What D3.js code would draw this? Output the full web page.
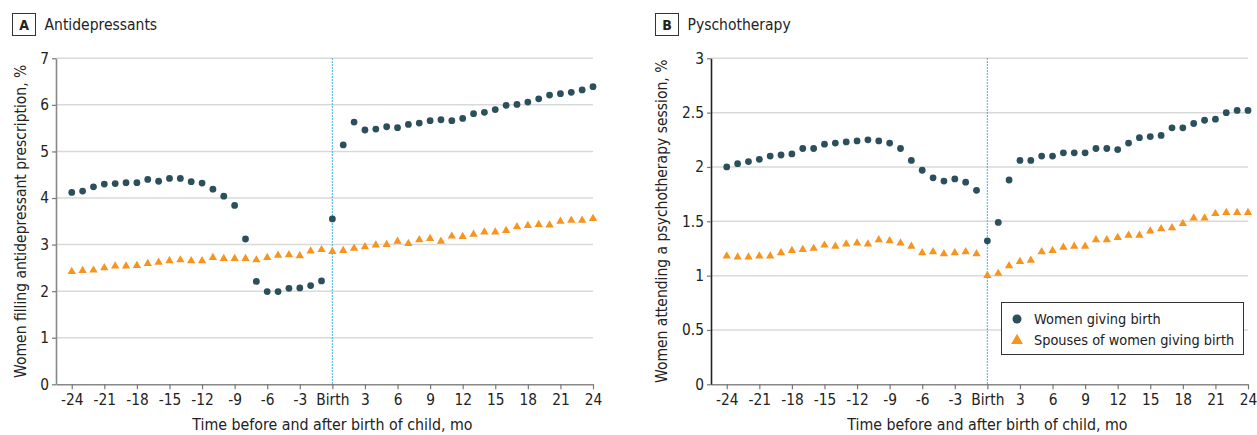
<!DOCTYPE html>
<html><head><meta charset="utf-8">
<script src="https://cdn.jsdelivr.net/npm/d3@7"></script>
<style>
body{margin:0;background:#fff;}
text{font-family:"DejaVu Sans Condensed","DejaVu Sans",sans-serif;fill:#222;}
</style></head>
<body><svg id="chart" width="1257" height="435"></svg>
<script>
const months = d3.range(-24, 25);
const xTicks = [-24,-21,-18,-15,-12,-9,-6,-3,0,3,6,9,12,15,18,21,24];
const tickFmt = d => d === 0 ? "Birth" : String(d);

const antiWomen = [4.12,4.15,4.24,4.30,4.31,4.33,4.33,4.40,4.36,4.42,4.42,4.35,4.32,4.19,4.04,3.84,3.12,2.21,1.99,1.99,2.06,2.07,2.12,2.22,
  3.55,5.14,5.63,5.46,5.48,5.53,5.51,5.58,5.61,5.66,5.68,5.66,5.71,5.81,5.84,5.90,5.99,6.01,6.06,6.13,6.21,6.24,6.27,6.32,6.39];
const antiSpouses = [2.42,2.44,2.45,2.50,2.54,2.54,2.55,2.59,2.62,2.65,2.67,2.65,2.65,2.72,2.70,2.70,2.70,2.67,2.72,2.77,2.78,2.76,2.86,2.89,
  2.85,2.87,2.92,2.95,2.99,3.00,3.07,3.02,3.10,3.13,3.07,3.18,3.17,3.22,3.27,3.27,3.30,3.38,3.41,3.43,3.42,3.50,3.52,3.52,3.56];
const psyWomen = [2.00,2.03,2.05,2.07,2.10,2.11,2.12,2.17,2.17,2.21,2.22,2.23,2.24,2.25,2.24,2.22,2.17,2.06,1.97,1.90,1.87,1.89,1.86,1.785,
  1.32,1.49,1.88,2.06,2.06,2.10,2.10,2.13,2.13,2.13,2.17,2.17,2.16,2.22,2.27,2.28,2.29,2.36,2.36,2.40,2.43,2.44,2.50,2.52,2.52];
const psySpouses = [1.18,1.17,1.17,1.18,1.18,1.21,1.23,1.24,1.25,1.28,1.27,1.29,1.30,1.29,1.33,1.32,1.30,1.27,1.21,1.22,1.20,1.21,1.22,1.20,
  1.00,1.02,1.09,1.13,1.14,1.22,1.23,1.26,1.27,1.27,1.33,1.33,1.35,1.37,1.37,1.41,1.43,1.44,1.48,1.53,1.53,1.57,1.58,1.58,1.58];
const antiYTicks = [0,1,2,3,4,5,6,7];
const psyYTicks = [0,0.5,1,1.5,2,2.5,3];
const legendLabels = ["Women giving birth","Spouses of women giving birth"];

const womenColor = "#2c4f5c", spouseColor = "#f7941d";
const svg = d3.select("#chart");

function panel(o){
  const g = svg.append("g");
  const x = d3.scaleLinear().domain([-25.45, 24]).range([o.x0, o.x1]);
  const y = d3.scaleLinear().domain([0, o.ymax]).range([384.3, 58.3]);
  g.selectAll("line.grid").data(o.yTicks.filter(d=>d>0)).join("line")
    .attr("x1", o.x0).attr("x2", x(24)).attr("y1", d=>y(d)).attr("y2", d=>y(d))
    .attr("stroke", "#d9d9d9").attr("stroke-width", 1.5);
  g.append("line").attr("x1", x(0)).attr("x2", x(0)).attr("y1", y(o.ymax)).attr("y2", y(0))
    .attr("stroke", "#2aaae2").attr("stroke-width", 1.2).attr("stroke-dasharray", "1.5,1.5");
  const xa = g.append("g").attr("transform", `translate(0,${y(0)})`)
    .call(d3.axisBottom(x).tickValues(xTicks).tickFormat(tickFmt).tickSize(5).tickPadding(5).tickSizeOuter(0));
  xa.select(".domain").attr("stroke", "#888").attr("stroke-width", 1.6);
  xa.selectAll(".tick line").attr("stroke", "#777").attr("stroke-width", 1.2);
  xa.selectAll("text").style("font-size", "15.3px").attr("fill", "#222");
  const ya = g.append("g").attr("transform", `translate(${o.x0},0)`)
    .call(d3.axisLeft(y).tickValues(o.yTicks).tickFormat(d=>String(d)).tickSize(4).tickPadding(3).tickSizeOuter(0));
  ya.select(".domain").attr("stroke", o.yAxisColor).attr("stroke-width", 1.6);
  ya.selectAll(".tick line").attr("stroke", "#777").attr("stroke-width", 1.2);
  ya.selectAll("text").style("font-size", "15.3px").attr("fill", "#222");
  g.append("text").attr("transform", `translate(${o.ylabX},${(y(0)+y(o.ymax))/2}) rotate(-90)`)
    .attr("text-anchor", "middle").attr("dy", "0.35em").style("font-size", "15.5px").text(o.ylab);
  g.append("text").attr("x", (x(-24)+x(24))/2).attr("y", 430).attr("text-anchor", "middle")
    .style("font-size", "15.8px").text("Time before and after birth of child, mo");
  g.append("rect").attr("x", o.hx).attr("y", 13.5).attr("width", 23).attr("height", 22)
    .attr("fill", "none").attr("stroke", "#333").attr("stroke-width", 1);
  g.append("text").attr("x", o.hx+11.5).attr("y", 30).attr("text-anchor", "middle")
    .style("font-size", "14px").style("font-weight", "bold").text(o.letter);
  g.append("text").attr("x", o.hx+32).attr("y", 30).style("font-size", "15.5px").text(o.title);
  const tri = d3.symbol().type(d3.symbolTriangle).size(30);
  g.selectAll("path.sp").data(months).join("path")
    .attr("transform", (d,i)=>`translate(${x(d)},${y(o.spouses[i])})`)
    .attr("d", tri).attr("fill", spouseColor);
  g.selectAll("circle.w").data(months).join("circle")
    .attr("cx", d=>x(d)).attr("cy", (d,i)=>y(o.women[i])).attr("r", 3.4).attr("fill", womenColor);
  return g;
}

panel({x0:56, x1:593, ymax:7, yTicks:antiYTicks, women:antiWomen, spouses:antiSpouses,
  ylab:"Women filling antidepressant prescription, %", ylabX:21, hx:12.5, letter:"A", title:"Antidepressants", yAxisColor:"#888"});
panel({x0:711, x1:1248, ymax:3, yTicks:psyYTicks, women:psyWomen, spouses:psySpouses,
  ylab:"Women attending a psychotherapy session, %", ylabX:662, hx:655.5, letter:"B", title:"Pyschotherapy", yAxisColor:"#222"});

const lg = svg.append("g");
lg.append("rect").attr("x", 1001.5).attr("y", 302.5).attr("width", 242).attr("height", 52)
  .attr("fill", "#fff").attr("stroke", "#333").attr("stroke-width", 1);
lg.append("circle").attr("cx", 1017).attr("cy", 319).attr("r", 4.5).attr("fill", womenColor);
lg.append("path").attr("transform", "translate(1017,340.5)").attr("d", d3.symbol().type(d3.symbolTriangle).size(60)).attr("fill", spouseColor);
lg.selectAll("text.l").data(legendLabels).join("text")
  .attr("x", 1034).attr("y", (d,i)=>319 + i*21).attr("dy", "0.35em")
  .style("font-size", "14.4px").text(d=>d);
</script></body></html>
